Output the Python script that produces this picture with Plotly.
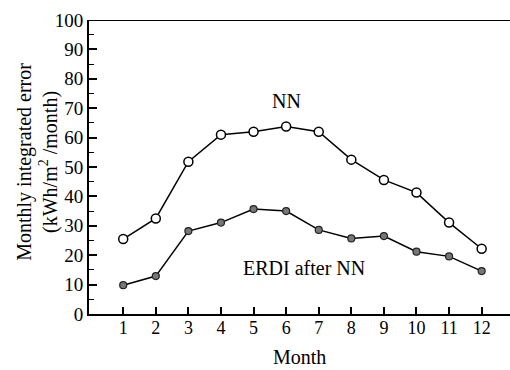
import plotly.graph_objects as go

months = [1, 2, 3, 4, 5, 6, 7, 8, 9, 10, 11, 12]
nn = [25.5, 32.5, 51.8, 61.0, 62.0, 63.8, 62.0, 52.5, 45.6, 41.3, 31.1, 22.2]
erdi = [9.8, 12.9, 28.2, 31.1, 35.7, 35.0, 28.6, 25.7, 26.5, 21.2, 19.6, 14.6]
y_ticks = [0, 10, 20, 30, 40, 50, 60, 70, 80, 90, 100]

FONT = "Liberation Serif"

fig = go.Figure()
fig.add_trace(go.Scatter(
    x=months, y=nn, mode="lines+markers", name="NN",
    line=dict(color="black", width=1.5),
    marker=dict(symbol="circle", size=9, color="white", line=dict(color="black", width=1.5)),
))
fig.add_trace(go.Scatter(
    x=months, y=erdi, mode="lines+markers", name="ERDI after NN",
    line=dict(color="black", width=1.5),
    marker=dict(symbol="circle", size=7, color="#777777", line=dict(color="#222", width=1.2)),
))

fig.add_annotation(x=6.0, y=72.3, text="NN", showarrow=False,
                   font=dict(family=FONT, size=20, color="black"))
fig.add_annotation(x=6.55, y=15.6, text="ERDI after NN", showarrow=False,
                   font=dict(family=FONT, size=20, color="black"))

# axis titles
fig.add_annotation(xref="paper", yref="paper", x=-0.124, y=0.517, textangle=-90,
                   text="Monthly integrated error<br>(kWh/m<sup>2</sup> /month)",
                   showarrow=False, xanchor="center", yanchor="middle",
                   font=dict(family=FONT, size=20, color="black"))
fig.add_annotation(xref="paper", yref="paper", x=0.5, y=-0.146,
                   text="Month", showarrow=False, xanchor="center", yanchor="middle",
                   font=dict(family=FONT, size=20, color="black"))

# top frame line
fig.add_shape(type="line", xref="paper", yref="y", x0=0, x1=1, y0=100, y1=100,
              line=dict(color="black", width=2))

fig.update_layout(
    width=510, height=370,
    margin=dict(l=89, r=0, t=20, b=56),
    paper_bgcolor="white", plot_bgcolor="white",
    showlegend=False,
    font=dict(family=FONT, size=18, color="black"),
    xaxis=dict(
        range=[-0.05, 12.87], tickmode="array", tickvals=months,
        ticktext=[str(m) for m in months],
        ticks="inside", ticklen=7, tickwidth=1.5, tickcolor="black",
        showline=True, linecolor="black", linewidth=2,
        showgrid=False, zeroline=False,
        ticklabelstandoff=-4,
        tickfont=dict(family=FONT, size=18),
    ),
    yaxis=dict(
        range=[0, 100], tickmode="array", tickvals=y_ticks,
        ticks="inside", ticklen=8, tickwidth=1.5, tickcolor="black",
        minor=dict(dtick=5, ticks="inside", ticklen=5, tickwidth=1.2, tickcolor="black", showgrid=False),
        showline=True, linecolor="black", linewidth=2,
        showgrid=False, zeroline=False,
        tickfont=dict(family=FONT, size=19),
    ),
)

fig.write_html("out.html")
